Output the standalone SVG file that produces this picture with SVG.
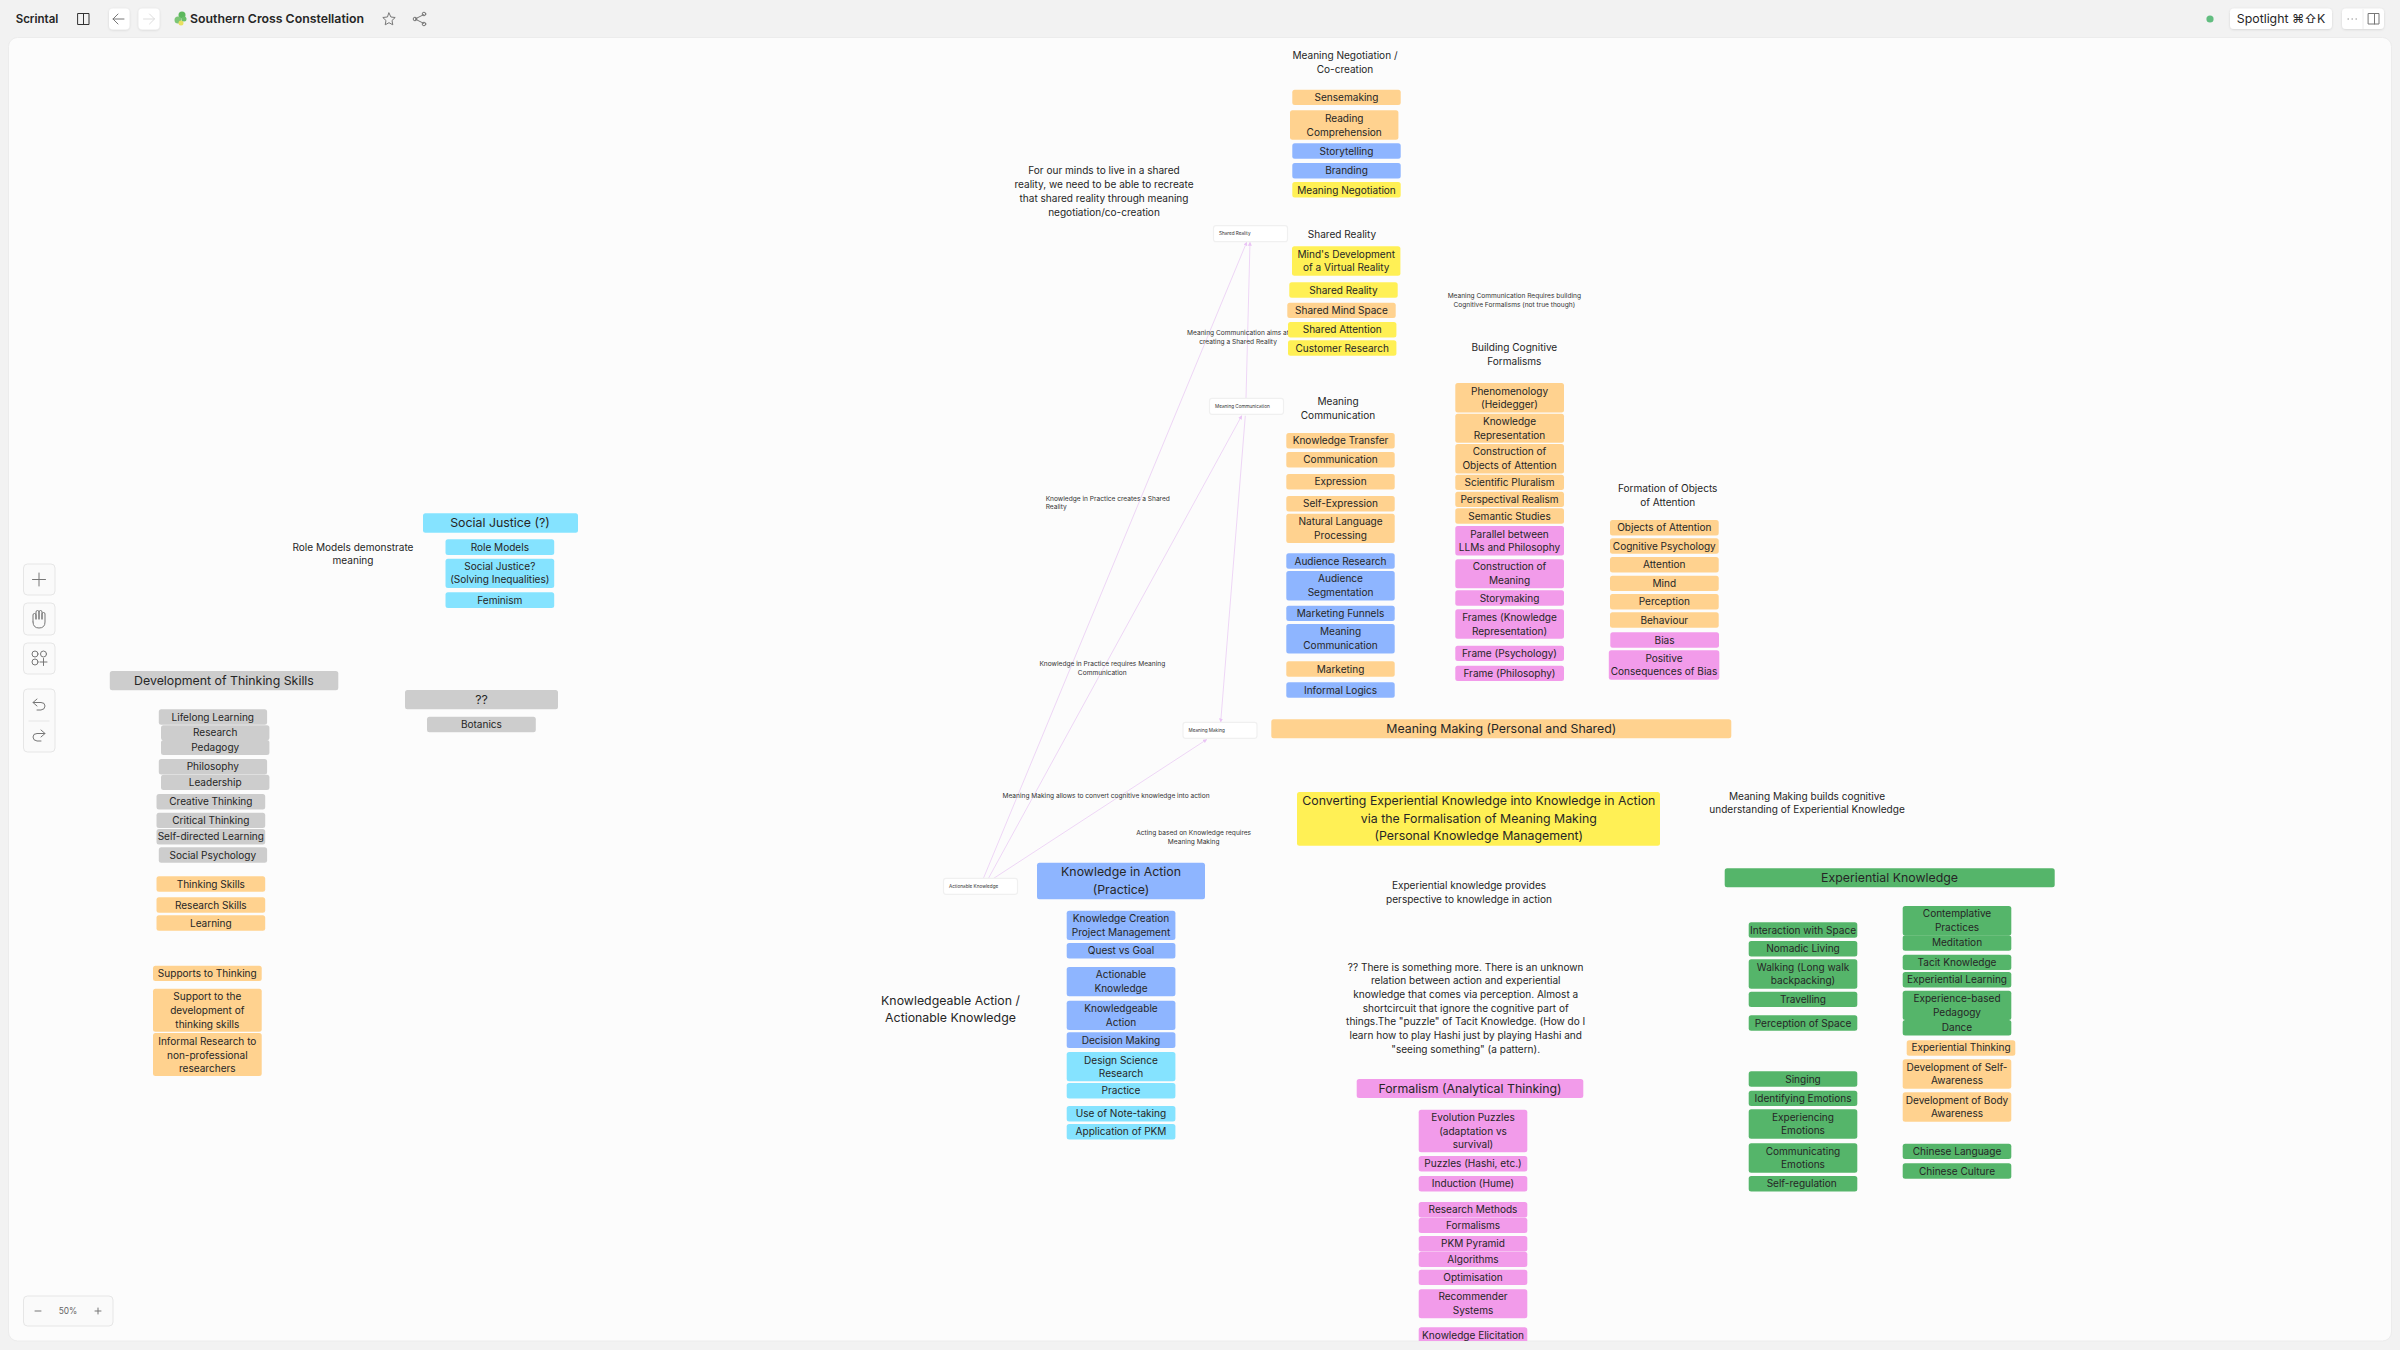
<svg xmlns="http://www.w3.org/2000/svg" width="2400" height="1350" viewBox="0 0 2400 1350">
<style>
text{font-family:Inter,"Liberation Sans",sans-serif;fill:#262626;text-anchor:middle;dominant-baseline:central}
.t{font-size:10.05px}
.b{font-size:12.35px}
.e{font-size:6.6px;fill:#333}
.k{font-size:4.65px;text-anchor:start;fill:#333}
.o rect{fill:#ffd28f}.u rect{fill:#8eb5ff}.c rect{fill:#85e3ff}.y rect{fill:#fff055}.p rect{fill:#f29bea}.g rect{fill:#55b56a}.s rect{fill:#cdcdcd}
.n rect{rx:2.5px;ry:2.5px}
.card rect{fill:#fff;stroke:#f0f0f0;stroke-width:1.2;rx:2.5px;ry:2.5px}
.ed line{stroke:#eed6f6;stroke-width:1;marker-end:url(#ah)}
.ui rect{fill:#fafafa;stroke:#e6e6e6;stroke-width:1}
.ic{fill:none;stroke:#777;stroke-width:1;stroke-linecap:round;stroke-linejoin:round}
.bt{fill:#fff;filter:url(#sh)}
</style>
<defs>
<marker id="ah" markerWidth="5" markerHeight="5" refX="3.5" refY="2" orient="auto" markerUnits="userSpaceOnUse"><path d="M0 0L4 2L0 4Z" fill="#eac4f5"/></marker>
<filter id="sh" x="-20%" y="-20%" width="140%" height="150%"><feDropShadow dx="0" dy="0.6" stdDeviation="1" flood-color="#000" flood-opacity="0.14"/></filter>
</defs>
<rect width="2400" height="1350" fill="#f2f2f2"/>
<rect x="8.500" y="37.500" width="2383" height="1303.500" rx="9" fill="#fcfcfc" stroke="#ececec"/>

<g id="topbar">
<text x="37" y="19" style="font-size:11.5px;font-weight:600">Scrintal</text>
<path class="ic" style="stroke:#333" d="M78 13.500h11v11h-11zM83.500 13.500v11"/>
<rect class="bt" x="109" y="8.500" width="20.500" height="21" rx="4"/>
<rect class="bt" x="138.500" y="8.500" width="21" height="21" rx="4"/>
<path class="ic" d="M124 19h-11M118 14l-5 5 5 5"/>
<path class="ic" style="stroke:#ddd" d="M143.500 19h11M149.500 14l5 5-5 5"/>
<circle cx="182" cy="15" r="3.500" fill="#5cb85c"/><circle cx="178" cy="20" r="3.500" fill="#7cc576"/><circle cx="181" cy="23" r="2.500" fill="#e8e060"/><circle cx="184" cy="19" r="2.500" fill="#6abf69"/>
<text x="277" y="18.500" style="font-size:12.300px;font-weight:600">Southern Cross Constellation</text>
<path class="ic" d="M389 13l1.900 4 4.300 .5-3.200 3 .8 4.300-3.800-2.100-3.800 2.100 .8-4.300-3.200-3 4.300-.5z"/>
<path class="ic" d="M424 14.500l-9 4.500 9 4.500"/><circle class="ic" cx="424" cy="14" r="1.800" fill="#f2f2f2"/><circle class="ic" cx="415" cy="19" r="1.800" fill="#f2f2f2"/><circle class="ic" cx="424" cy="24" r="1.800" fill="#f2f2f2"/>
<circle cx="2210" cy="19" r="3.600" fill="#62bd80"/>
<rect class="bt" x="2230" y="8.500" width="102" height="20.500" rx="4"/>
<text x="2281" y="18.500" style="font-size:12.300px;font-family:Inter,'Noto Sans CJK SC','DejaVu Sans',sans-serif">Spotlight ⌘⇧K</text>
<rect class="bt" x="2342" y="8.500" width="42" height="20.500" rx="4"/>
<path d="M2363 9v20" stroke="#eee"/>
<path class="ic" d="M2348 19h.4M2352 19h.4M2356 19h.4M2368.500 13.500h10.500v10.500h-10.500zM2374.500 13.500v10.500"/>
</g>

<g id="sidebar" class="ui">
<rect x="23.500" y="564" width="31.500" height="31" rx="4"/>
<rect x="23.500" y="603" width="31.500" height="32" rx="4"/>
<rect x="23.500" y="643" width="31.500" height="31" rx="4"/>
<rect x="23.500" y="689" width="31.500" height="63" rx="4"/>
<path class="ic" d="M39 573v13M32.500 579.500h13"/>
<path class="ic" d="M33 622v-7q0-1.500 1.500-1.500t1.500 1.500v4M36 619v-7q0-1.500 1.500-1.500t1.500 1.500v7M39 619v-7q0-1.500 1.500-1.500t1.500 1.500v7M42 619v-5q0-1.500 1.500-1.500t1.500 1.500v8q0 6-6 6t-6-6"/>
<circle class="ic" cx="35" cy="654" r="3"/><circle class="ic" cx="43.500" cy="654" r="3"/><circle class="ic" cx="35" cy="662" r="3"/><path class="ic" d="M43.500 658.500v7M40 662h7"/>
<path class="ic" d="M37 699l-4 3.500 4 3.500M33 702.500h8q4 0 4 3.500t-4 4h-4"/>
<path d="M28.500 721h21" stroke="#e6e6e6"/>
<path class="ic" d="M41 730l4 3.500-4 3.500M45 733.500h-8q-4 0-4 3.500t4 4h4"/>
<rect x="23.500" y="1296" width="89.500" height="30" rx="4"/>
<path class="ic" d="M35 1311h6M95 1311h6M98 1308v6"/>
<text x="68" y="1311" style="font-size:8.400px;fill:#666">50%</text>
</g>

<g id="connectors" class="ed">
<line x1="983.300" y1="878.600" x2="1246.700" y2="242.200"/>
<line x1="988.300" y1="878.600" x2="1241.700" y2="415.800"/>
<line x1="993.300" y1="878.600" x2="1206.700" y2="739.500"/>
<line x1="1246" y1="398.300" x2="1250" y2="242.200"/>
<line x1="1245.300" y1="415.800" x2="1220.700" y2="722"/>
</g>

<g id="edge-labels">
<text class="e" x="1238" y="332.700">Meaning Communication aims at</text>
<text class="e" x="1238" y="341.700">creating a Shared Reality</text>
<text class="e" x="1045.700" y="498.700" style="text-anchor:start">Knowledge in Practice creates a Shared</text>
<text class="e" x="1045.700" y="507" style="text-anchor:start">Reality</text>
<text class="e" x="1102.300" y="663.700">Knowledge in Practice requires Meaning</text>
<text class="e" x="1102.300" y="672.700">Communication</text>
<text class="e" x="1106" y="796.300">Meaning Making allows to convert cognitive knowledge into action</text>
<text class="e" x="1193.700" y="833.300">Acting based on Knowledge requires</text>
<text class="e" x="1193.700" y="842">Meaning Making</text>
<text class="e" x="1514.300" y="296">Meaning Communication Requires building</text>
<text class="e" x="1514.300" y="305">Cognitive Formalisms (not true though)</text>
</g>

<g id="cards" class="card">
<g id="card-shared-reality"><rect x="1213.500" y="225.700" width="74" height="16"/><text class="k" x="1219" y="233.400">Shared Reality</text></g>
<g id="card-meaning-communication"><rect x="1209.500" y="398.300" width="74" height="16"/><text class="k" x="1215" y="406">Meaning Communication</text></g>
<g id="card-meaning-making"><rect x="1183" y="722.300" width="74" height="16"/><text class="k" x="1188.500" y="730">Meaning Making</text></g>
<g id="card-actionable-knowledge"><rect x="943.500" y="878.300" width="74" height="16"/><text class="k" x="949" y="886">Actionable Knowledge</text></g>
</g>

<g id="notes">
<g class="t"><text x="1345" y="55">Meaning Negotiation /</text><text x="1345" y="69">Co-creation</text></g>
<g class="t"><text x="1104" y="170.300">For our minds to live in a shared</text><text x="1104" y="184">reality, we need to be able to recreate</text><text x="1104" y="198">that shared reality through meaning</text><text x="1104" y="211.700">negotiation/co-creation</text></g>
<text class="t" x="1342" y="234">Shared Reality</text>
<g class="t"><text x="1338" y="401.300">Meaning</text><text x="1338" y="415">Communication</text></g>
<g class="t"><text x="1514.300" y="347.300">Building Cognitive</text><text x="1514.300" y="361">Formalisms</text></g>
<g class="t"><text x="1667.700" y="488.300">Formation of Objects</text><text x="1667.700" y="502">of Attention</text></g>
<g class="t"><text x="353" y="546.700">Role Models demonstrate</text><text x="353" y="560.300">meaning</text></g>
<g class="b"><text x="950.500" y="1000">Knowledgeable Action /</text><text x="950.500" y="1017.300">Actionable Knowledge</text></g>
<g class="t"><text x="1807" y="795.700">Meaning Making builds cognitive</text><text x="1807" y="809.300">understanding of Experiential Knowledge</text></g>
<g class="t"><text x="1469" y="885">Experiential knowledge provides</text><text x="1469" y="899">perspective to knowledge in action</text></g>
<g class="t"><text x="1465.700" y="966.700">?? There is something more. There is an unknown</text><text x="1465.700" y="980.300">relation between action and experiential</text><text x="1465.700" y="994">knowledge that comes via perception. Almost a</text><text x="1465.700" y="1008">shortcircuit that ignore the cognitive part of</text><text x="1465.700" y="1021.300">things.The "puzzle" of Tacit Knowledge. (How do I</text><text x="1465.700" y="1035">learn how to play Hashi just by playing Hashi and</text><text x="1465.700" y="1048.700">"seeing something" (a pattern).</text></g>
</g>

<g id="nodes" class="n">
<g id="n-sensemaking" class="o"><rect x="1292.300" y="89.700" width="108.400" height="15.400"/><text class="t" x="1346.500" y="97.200">Sensemaking</text></g>
<g id="n-reading" class="o"><rect x="1290" y="110.300" width="108.400" height="29.400"/><text class="t" x="1344.200" y="118">Reading</text><text class="t" x="1344.200" y="131.500">Comprehension</text></g>
<g id="n-storytelling" class="u"><rect x="1292.300" y="143.300" width="108.400" height="15.400"/><text class="t" x="1346.500" y="150.500">Storytelling</text></g>
<g id="n-branding" class="u"><rect x="1292.300" y="163" width="108.400" height="15.400"/><text class="t" x="1346.500" y="170.300">Branding</text></g>
<g id="n-meaning-negotiation" class="y"><rect x="1292.300" y="182" width="108.400" height="15.400"/><text class="t" x="1346.500" y="189.500">Meaning Negotiation</text></g>
<g id="n-virtual-reality" class="y"><rect x="1292" y="246.300" width="108.400" height="29.400"/><text class="t" x="1346.200" y="253.700">Mind's Development</text><text class="t" x="1346.200" y="267.300">of a Virtual Reality</text></g>
<g id="n-shared-reality" class="y"><rect x="1289.300" y="282.300" width="108.400" height="15.400"/><text class="t" x="1343.500" y="289.700">Shared Reality</text></g>
<g id="n-shared-mind" class="o"><rect x="1287.300" y="302.700" width="108.400" height="15.400"/><text class="t" x="1341.500" y="310">Shared Mind Space</text></g>
<g id="n-shared-attention" class="y"><rect x="1288" y="322" width="108.400" height="15.400"/><text class="t" x="1342.200" y="329.300">Shared Attention</text></g>
<g id="n-customer-research" class="y"><rect x="1288" y="340.300" width="108.400" height="15.400"/><text class="t" x="1342.200" y="347.500">Customer Research</text></g>

<g id="n-knowledge-transfer" class="o"><rect x="1286.300" y="433" width="108.400" height="15.400"/><text class="t" x="1340.500" y="440.200">Knowledge Transfer</text></g>
<g id="n-communication" class="o"><rect x="1286.300" y="452" width="108.400" height="15.400"/><text class="t" x="1340.500" y="459">Communication</text></g>
<g id="n-expression" class="o"><rect x="1286.300" y="474" width="108.400" height="15.400"/><text class="t" x="1340.500" y="481.200">Expression</text></g>
<g id="n-self-expression" class="o"><rect x="1286.300" y="496" width="108.400" height="15.400"/><text class="t" x="1340.500" y="503.200">Self-Expression</text></g>
<g id="n-nlp" class="o"><rect x="1286.300" y="513.700" width="108.400" height="29.400"/><text class="t" x="1340.500" y="521">Natural Language</text><text class="t" x="1340.500" y="534.500">Processing</text></g>
<g id="n-audience-research" class="u"><rect x="1286.300" y="553.300" width="108.400" height="15.400"/><text class="t" x="1340.500" y="560.500">Audience Research</text></g>
<g id="n-audience-seg" class="u"><rect x="1286.300" y="571" width="108.400" height="29.400"/><text class="t" x="1340.500" y="578.300">Audience</text><text class="t" x="1340.500" y="591.800">Segmentation</text></g>
<g id="n-marketing-funnels" class="u"><rect x="1286.300" y="605.700" width="108.400" height="15.400"/><text class="t" x="1340.500" y="612.800">Marketing Funnels</text></g>
<g id="n-meaning-comm" class="u"><rect x="1286.300" y="624" width="108.400" height="29.400"/><text class="t" x="1340.500" y="631">Meaning</text><text class="t" x="1340.500" y="645">Communication</text></g>
<g id="n-marketing" class="o"><rect x="1286.300" y="661.300" width="108.400" height="15.400"/><text class="t" x="1340.500" y="668.500">Marketing</text></g>
<g id="n-informal-logics" class="u"><rect x="1286.300" y="682.300" width="108.400" height="15.400"/><text class="t" x="1340.500" y="689.500">Informal Logics</text></g>
<g id="n-meaning-making-bar" class="o"><rect x="1271.300" y="719.300" width="460" height="19"/><text class="b" x="1501.300" y="728.500">Meaning Making (Personal and Shared)</text></g>

<g id="n-phenomenology" class="o"><rect x="1455.300" y="383" width="108.700" height="29.400"/><text class="t" x="1509.500" y="390.700">Phenomenology</text><text class="t" x="1509.500" y="404">(Heidegger)</text></g>
<g id="n-knowledge-rep" class="o"><rect x="1455.300" y="413.700" width="108.700" height="29"/><text class="t" x="1509.500" y="421">Knowledge</text><text class="t" x="1509.500" y="434.500">Representation</text></g>
<g id="n-construction-obj" class="o"><rect x="1455.300" y="444" width="108.700" height="29.400"/><text class="t" x="1509.500" y="451.300">Construction of</text><text class="t" x="1509.500" y="465">Objects of Attention</text></g>
<g id="n-pluralism" class="o"><rect x="1455.300" y="474.700" width="108.700" height="15.400"/><text class="t" x="1509.500" y="482">Scientific Pluralism</text></g>
<g id="n-perspectival" class="o"><rect x="1455.300" y="491.700" width="108.700" height="15.400"/><text class="t" x="1509.500" y="498.800">Perspectival Realism</text></g>
<g id="n-semantic" class="o"><rect x="1455.300" y="508.300" width="108.700" height="15.400"/><text class="t" x="1509.500" y="515.700">Semantic Studies</text></g>
<g id="n-parallel" class="p"><rect x="1455.300" y="526" width="108.700" height="29.400"/><text class="t" x="1509.500" y="533.700">Parallel between</text><text class="t" x="1509.500" y="547">LLMs and Philosophy</text></g>
<g id="n-construction-meaning" class="p"><rect x="1455.300" y="559.300" width="108.700" height="29"/><text class="t" x="1509.500" y="566.300">Construction of</text><text class="t" x="1509.500" y="580.300">Meaning</text></g>
<g id="n-storymaking" class="p"><rect x="1455.300" y="590.300" width="108.700" height="15.400"/><text class="t" x="1509.500" y="597.500">Storymaking</text></g>
<g id="n-frames-kr" class="p"><rect x="1455.300" y="609.300" width="108.700" height="29.400"/><text class="t" x="1509.500" y="616.500">Frames (Knowledge</text><text class="t" x="1509.500" y="630.500">Representation)</text></g>
<g id="n-frame-psych" class="p"><rect x="1455.300" y="645.700" width="108.700" height="15.400"/><text class="t" x="1509.500" y="652.700">Frame (Psychology)</text></g>
<g id="n-frame-phil" class="p"><rect x="1455.300" y="665.700" width="108.700" height="15.400"/><text class="t" x="1509.500" y="672.900">Frame (Philosophy)</text></g>

<g id="n-objects" class="o"><rect x="1610" y="520" width="108.700" height="15.400"/><text class="t" x="1664.300" y="527.300">Objects of Attention</text></g>
<g id="n-cog-psych" class="o"><rect x="1610" y="538.300" width="108.700" height="15.400"/><text class="t" x="1664.300" y="545.600">Cognitive Psychology</text></g>
<g id="n-attention" class="o"><rect x="1610" y="557" width="108.700" height="15.400"/><text class="t" x="1664.300" y="564">Attention</text></g>
<g id="n-mind" class="o"><rect x="1610" y="575.700" width="108.700" height="15.400"/><text class="t" x="1664.300" y="583">Mind</text></g>
<g id="n-perception" class="o"><rect x="1610" y="594" width="108.700" height="15.400"/><text class="t" x="1664.300" y="601">Perception</text></g>
<g id="n-behaviour" class="o"><rect x="1610" y="612.300" width="108.700" height="15.400"/><text class="t" x="1664.300" y="619.700">Behaviour</text></g>
<g id="n-bias" class="p"><rect x="1610.300" y="632.300" width="108.700" height="15.400"/><text class="t" x="1664.600" y="639.500">Bias</text></g>
<g id="n-positive" class="p"><rect x="1608.800" y="650.300" width="110.500" height="29.400"/><text class="t" x="1664" y="657.600">Positive</text><text class="t" x="1664" y="671.300">Consequences of Bias</text></g>

<g id="n-social-justice-bar" class="c"><rect x="423" y="513.300" width="155" height="19.400"/><text class="b" x="500" y="522.700">Social Justice (?)</text></g>
<g id="n-role-models" class="c"><rect x="445.500" y="539.300" width="108.700" height="15.700"/><text class="t" x="499.800" y="546.700">Role Models</text></g>
<g id="n-social-justice" class="c"><rect x="445.500" y="558.700" width="108.700" height="29.300"/><text class="t" x="499.800" y="565.800">Social Justice?</text><text class="t" x="499.800" y="579.300">(Solving Inequalities)</text></g>
<g id="n-feminism" class="c"><rect x="445.500" y="592.300" width="108.700" height="15.700"/><text class="t" x="499.800" y="599.700">Feminism</text></g>

<g id="n-dev-thinking" class="s"><rect x="109.800" y="671" width="228.500" height="19.300"/><text class="b" x="224" y="680.300">Development of Thinking Skills</text></g>
<g id="n-qq" class="s"><rect x="405" y="690" width="153" height="19.300"/><text class="b" x="481.500" y="699">??</text></g>
<g id="n-botanics" class="s"><rect x="427" y="716.700" width="108.800" height="15.600"/><text class="t" x="481.400" y="724">Botanics</text></g>
<g id="n-lifelong" class="s"><rect x="158.800" y="709.300" width="108.300" height="15.400"/><text class="t" x="212.800" y="716.500">Lifelong Learning</text></g>
<g id="n-research" class="s"><rect x="161" y="725.300" width="108.400" height="14.900"/><text class="t" x="215.200" y="732.300">Research</text></g>
<g id="n-pedagogy" class="s"><rect x="161" y="740" width="108.400" height="15"/><text class="t" x="215.200" y="747">Pedagogy</text></g>
<g id="n-philosophy" class="s"><rect x="158.800" y="759" width="108.300" height="15.400"/><text class="t" x="212.800" y="766">Philosophy</text></g>
<g id="n-leadership" class="s"><rect x="161" y="774.700" width="108.400" height="15.300"/><text class="t" x="215.200" y="781.500">Leadership</text></g>
<g id="n-creative" class="s"><rect x="156.500" y="794" width="108.700" height="15.400"/><text class="t" x="210.800" y="801">Creative Thinking</text></g>
<g id="n-critical" class="s"><rect x="156.500" y="812.700" width="108.700" height="15.400"/><text class="t" x="210.800" y="820">Critical Thinking</text></g>
<g id="n-self-directed" class="s"><rect x="156.500" y="829" width="108.700" height="15.400"/><text class="t" x="210.800" y="836">Self-directed Learning</text></g>
<g id="n-social-psych" class="s"><rect x="158.800" y="847.300" width="108.300" height="15.400"/><text class="t" x="212.800" y="854.700">Social Psychology</text></g>
<g id="n-thinking-skills" class="o"><rect x="156.500" y="876.300" width="108.700" height="15.400"/><text class="t" x="210.800" y="883.600">Thinking Skills</text></g>
<g id="n-research-skills" class="o"><rect x="156.500" y="897.300" width="108.700" height="15.400"/><text class="t" x="210.800" y="904.600">Research Skills</text></g>
<g id="n-learning" class="o"><rect x="156.500" y="915.300" width="108.700" height="15.400"/><text class="t" x="210.800" y="922.800">Learning</text></g>
<g id="n-supports" class="o"><rect x="153" y="965.700" width="108.700" height="15.400"/><text class="t" x="207.300" y="973.300">Supports to Thinking</text></g>
<g id="n-support-dev" class="o"><rect x="153" y="988.700" width="108.700" height="43"/><text class="t" x="207.300" y="996.300">Support to the</text><text class="t" x="207.300" y="1010">development of</text><text class="t" x="207.300" y="1023.500">thinking skills</text></g>
<g id="n-informal-research" class="o"><rect x="153" y="1033" width="108.700" height="43"/><text class="t" x="207.300" y="1041">Informal Research to</text><text class="t" x="207.300" y="1054.600">non-professional</text><text class="t" x="207.300" y="1068.300">researchers</text></g>

<g id="n-knowledge-in-action" class="u"><rect x="1037" y="862.700" width="168" height="36.600"/><text class="b" x="1121" y="871.500">Knowledge in Action</text><text class="b" x="1121" y="889">(Practice)</text></g>
<g id="n-kcpm" class="u"><rect x="1066.700" y="910.700" width="108.700" height="29.300"/><text class="t" x="1121" y="917.800">Knowledge Creation</text><text class="t" x="1121" y="931.700">Project Management</text></g>
<g id="n-quest" class="u"><rect x="1066.700" y="943" width="108.700" height="15.400"/><text class="t" x="1121" y="950.200">Quest vs Goal</text></g>
<g id="n-actionable" class="u"><rect x="1066.700" y="967" width="108.700" height="29.300"/><text class="t" x="1121" y="974">Actionable</text><text class="t" x="1121" y="987.700">Knowledge</text></g>
<g id="n-knowledgeable" class="u"><rect x="1066.700" y="1000.700" width="108.700" height="29.300"/><text class="t" x="1121" y="1008">Knowledgeable</text><text class="t" x="1121" y="1021.800">Action</text></g>
<g id="n-decision" class="u"><rect x="1066.700" y="1032.300" width="108.700" height="15.600"/><text class="t" x="1121" y="1039.700">Decision Making</text></g>
<g id="n-dsr" class="c"><rect x="1066.700" y="1052" width="108.700" height="29.300"/><text class="t" x="1121" y="1059.500">Design Science</text><text class="t" x="1121" y="1073">Research</text></g>
<g id="n-practice" class="c"><rect x="1066.700" y="1083" width="108.700" height="15.600"/><text class="t" x="1121" y="1090.300">Practice</text></g>
<g id="n-note-taking" class="c"><rect x="1066.700" y="1106" width="108.700" height="15.600"/><text class="t" x="1121" y="1113.300">Use of Note-taking</text></g>
<g id="n-pkm" class="c"><rect x="1066.700" y="1124" width="108.700" height="15.400"/><text class="t" x="1121" y="1131">Application of PKM</text></g>

<g id="n-converting" class="y"><rect x="1297" y="792" width="363" height="53.700"/><text class="b" x="1478.800" y="800.700">Converting Experiential Knowledge into Knowledge in Action</text><text class="b" x="1478.800" y="818">via the Formalisation of Meaning Making</text><text class="b" x="1478.800" y="835.300">(Personal Knowledge Management)</text></g>

<g id="n-formalism-bar" class="p"><rect x="1356.700" y="1079" width="226.600" height="19"/><text class="b" x="1470" y="1088">Formalism (Analytical Thinking)</text></g>
<g id="n-evolution" class="p"><rect x="1418.700" y="1109.700" width="108.600" height="42.600"/><text class="t" x="1473" y="1117">Evolution Puzzles</text><text class="t" x="1473" y="1130.700">(adaptation vs</text><text class="t" x="1473" y="1144.300">survival)</text></g>
<g id="n-puzzles" class="p"><rect x="1418.700" y="1156" width="108.600" height="15.400"/><text class="t" x="1473" y="1163.300">Puzzles (Hashi, etc.)</text></g>
<g id="n-induction" class="p"><rect x="1418.700" y="1176" width="108.600" height="15.400"/><text class="t" x="1473" y="1183.300">Induction (Hume)</text></g>
<g id="n-research-methods" class="p"><rect x="1418.700" y="1202" width="108.600" height="15.400"/><text class="t" x="1473" y="1209">Research Methods</text></g>
<g id="n-formalisms" class="p"><rect x="1418.700" y="1217.700" width="108.600" height="15.400"/><text class="t" x="1473" y="1225">Formalisms</text></g>
<g id="n-pkm-pyramid" class="p"><rect x="1418.700" y="1236" width="108.600" height="15.400"/><text class="t" x="1473" y="1243.300">PKM Pyramid</text></g>
<g id="n-algorithms" class="p"><rect x="1418.700" y="1251.700" width="108.600" height="15.400"/><text class="t" x="1473" y="1259">Algorithms</text></g>
<g id="n-optimisation" class="p"><rect x="1418.700" y="1269.700" width="108.600" height="15.400"/><text class="t" x="1473" y="1277">Optimisation</text></g>
<g id="n-recommender" class="p"><rect x="1418.700" y="1289.300" width="108.600" height="29"/><text class="t" x="1473" y="1296.300">Recommender</text><text class="t" x="1473" y="1310.300">Systems</text></g>
<g id="n-elicitation" class="p"><path d="M1418.700 1341v-11q0-2.700 2.700-2.700h103.200q2.700 0 2.700 2.700v11z" fill="#f29bea"/><text class="t" x="1473" y="1334.500">Knowledge Elicitation</text></g>

<g id="n-experiential-bar" class="g"><rect x="1724.700" y="868.300" width="330" height="19"/><text class="b" x="1889.500" y="877.300">Experiential Knowledge</text></g>
<g id="n-interaction" class="g"><rect x="1748.700" y="922.300" width="108.600" height="15.400"/><text class="t" x="1803" y="929.500">Interaction with Space</text></g>
<g id="n-nomadic" class="g"><rect x="1748.700" y="941" width="108.600" height="15.400"/><text class="t" x="1803" y="948">Nomadic Living</text></g>
<g id="n-walking" class="g"><rect x="1748.700" y="959.300" width="108.600" height="29.400"/><text class="t" x="1803" y="966.700">Walking (Long walk</text><text class="t" x="1803" y="980.300">backpacking)</text></g>
<g id="n-travelling" class="g"><rect x="1748.700" y="991.700" width="108.600" height="15.400"/><text class="t" x="1803" y="999">Travelling</text></g>
<g id="n-perception-space" class="g"><rect x="1748.700" y="1015.300" width="108.600" height="15.400"/><text class="t" x="1803" y="1022.500">Perception of Space</text></g>
<g id="n-singing" class="g"><rect x="1748.700" y="1071.300" width="108.600" height="15.400"/><text class="t" x="1803" y="1078.500">Singing</text></g>
<g id="n-identifying" class="g"><rect x="1748.700" y="1090.700" width="108.600" height="15.400"/><text class="t" x="1803" y="1098">Identifying Emotions</text></g>
<g id="n-experiencing" class="g"><rect x="1748.700" y="1109.300" width="108.600" height="29.400"/><text class="t" x="1803" y="1116.700">Experiencing</text><text class="t" x="1803" y="1130.300">Emotions</text></g>
<g id="n-communicating" class="g"><rect x="1748.700" y="1143.300" width="108.600" height="29.400"/><text class="t" x="1803" y="1150.700">Communicating</text><text class="t" x="1803" y="1164.300">Emotions</text></g>
<g id="n-self-regulation" class="g"><rect x="1748.700" y="1176" width="108.600" height="15.400"/><text class="t" x="1801.700" y="1183">Self-regulation</text></g>
<g id="n-contemplative" class="g"><rect x="1902.700" y="906" width="108.600" height="29.400"/><text class="t" x="1957" y="913.300">Contemplative</text><text class="t" x="1957" y="926.700">Practices</text></g>
<g id="n-meditation" class="g"><rect x="1902.700" y="935.300" width="108.600" height="15.400"/><text class="t" x="1957" y="942.300">Meditation</text></g>
<g id="n-tacit" class="g"><rect x="1902.700" y="954.700" width="108.600" height="15.400"/><text class="t" x="1957" y="961.700">Tacit Knowledge</text></g>
<g id="n-exp-learning" class="g"><rect x="1902.700" y="972" width="108.600" height="15.400"/><text class="t" x="1957" y="979">Experiential Learning</text></g>
<g id="n-exp-based" class="g"><rect x="1902.700" y="990.700" width="108.600" height="29.400"/><text class="t" x="1957" y="997.700">Experience-based</text><text class="t" x="1957" y="1011.700">Pedagogy</text></g>
<g id="n-dance" class="g"><rect x="1902.700" y="1020" width="108.600" height="15.400"/><text class="t" x="1957" y="1027">Dance</text></g>
<g id="n-exp-thinking" class="o"><rect x="1906.700" y="1040.300" width="108.600" height="15.400"/><text class="t" x="1961" y="1047.300">Experiential Thinking</text></g>
<g id="n-dev-self" class="o"><rect x="1902.700" y="1059.300" width="108.600" height="29.400"/><text class="t" x="1957" y="1066.500">Development of Self-</text><text class="t" x="1957" y="1080">Awareness</text></g>
<g id="n-dev-body" class="o"><rect x="1902.700" y="1092.300" width="108.600" height="29.400"/><text class="t" x="1957" y="1099.700">Development of Body</text><text class="t" x="1957" y="1113.300">Awareness</text></g>
<g id="n-chinese-language" class="g"><rect x="1902.700" y="1143.700" width="108.600" height="15.400"/><text class="t" x="1957" y="1150.800">Chinese Language</text></g>
<g id="n-chinese-culture" class="g"><rect x="1902.700" y="1163.300" width="108.600" height="15.400"/><text class="t" x="1957" y="1170.500">Chinese Culture</text></g>
</g>
</svg>
